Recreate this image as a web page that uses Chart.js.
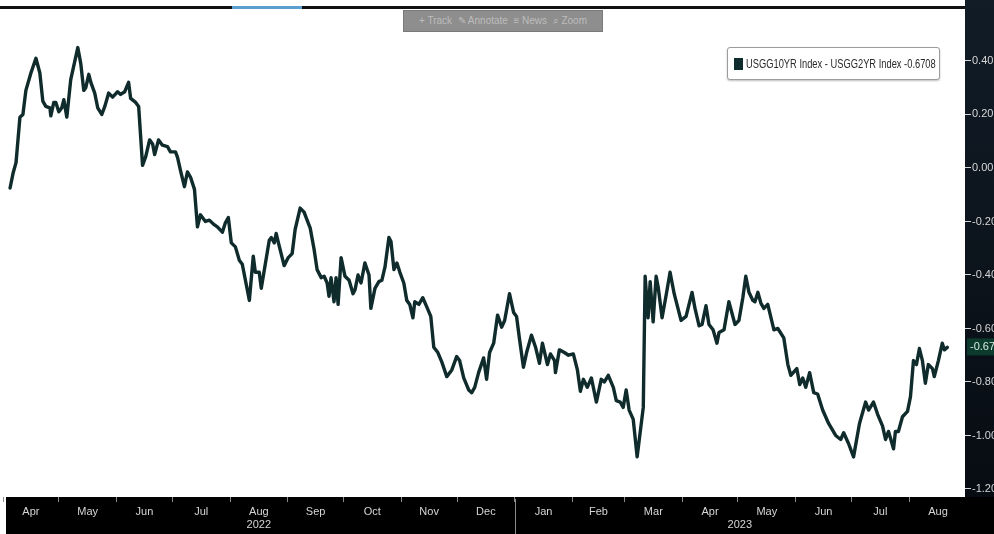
<!DOCTYPE html>
<html>
<head>
<meta charset="utf-8">
<script src="https://cdn.jsdelivr.net/npm/chart.js@4.4.1/dist/chart.umd.min.js"></script>
<style>
  html, body { margin: 0; padding: 0; background: #fff; }
  #wrap { position: relative; width: 994px; height: 534px; overflow: hidden; }
  #chart { position: absolute; left: 0; top: 0; }
  .narrow { font-family: 'Liberation Sans', Arial, sans-serif; }
  #legendBox {
    position: absolute; left: 727px; top: 47px; width: 211px; height: 31px;
    border: 1px solid #9c9c9c; border-radius: 3px; background: #fff;
    box-shadow: 0 1px 2px rgba(0,0,0,0.25);
    font-size: 13.5px; color: #2a2a2a; line-height: 31px; white-space: nowrap;
  }
  #legendBox .swatch {
    position: absolute; left: 6px; top: 10px; width: 9px; height: 12px; background: #0f2b2b;
  }
  #legendBox .txt { position: absolute; left: 18px; top: 0; display: inline-block; transform-origin: 0 50%; }
  #toolbar {
    position: absolute; left: 403px; top: 10px; width: 200px; height: 22px;
    background: #8e8e8e; border: 1px solid #7a7a7a; box-sizing: border-box;
    color: #bdbdbd; font-size: 10px; line-height: 20px; white-space: nowrap;
    text-align: center;
  }
</style>
</head>
<body>
<div id="wrap">
  <canvas id="chart" width="994" height="534"></canvas>
  <div id="toolbar" class="narrow">+ Track&nbsp;&nbsp;&#9998; Annotate&nbsp;&nbsp;&#8801; News&nbsp;&nbsp;&#8981; Zoom</div>
  <div id="legendBox" class="narrow"><span class="swatch"></span><span class="txt" id="legendTxt">USGG10YR Index - USGG2YR Index -0.6708</span></div>
</div>
<script>
// --- chart data ---
// x = days since 1 Apr 2022, y = 10y minus 2y treasury spread
var days = [
  3.8, 5.4, 7.0, 9.1, 10.7, 12.3, 15.0, 17.7, 19.8, 21.4, 23.0, 25.2, 25.7, 27.3, 28.4, 30.0,
  31.6, 32.7, 34.3, 36.4, 40.2, 41.8, 43.4, 44.5, 46.1, 47.2, 49.3, 50.9, 53.1, 54.7, 56.8, 58.9,
  61.6, 63.2, 65.4, 67.5, 68.6, 71.3, 72.9, 75.0, 76.6, 78.8, 80.4, 81.5, 83.6, 85.7, 88.4, 90.0,
  92.7, 93.8, 95.4, 97.5, 99.1, 100.8, 102.9, 104.5, 106.1, 108.8, 110.9, 113.1, 115.2, 117.9,
  119.5, 121.1, 122.7, 124.9, 127.0, 128.6, 132.4, 134.5, 135.6, 137.7, 138.8, 143.1, 144.2, 145.8,
  146.8, 148.4, 151.1, 153.3, 155.4, 157.0, 159.7, 161.8, 164.0, 165.1, 167.2, 168.8, 171.0, 172.6,
  174.2, 175.2, 176.3, 177.9, 179.0, 180.1, 181.7, 183.8, 186.0, 188.1, 189.2, 190.8, 192.4, 194.5,
  196.7, 197.7, 199.9, 202.0, 203.6, 205.3, 207.4, 208.5, 210.1, 211.7, 213.3, 215.4, 217.0, 218.6,
  220.3, 221.3, 223.5, 225.6, 227.8, 229.9, 231.5, 233.7, 235.8, 238.5, 241.2, 243.8, 245.4, 247.6,
  250.3, 251.9, 253.5, 255.6, 258.3, 259.9, 261.5, 263.7, 265.8, 268.0, 269.6, 272.2, 274.4, 276.0,
  277.6, 279.7, 281.4, 284.0, 286.2, 288.3, 289.9, 292.6, 294.2, 296.4, 296.9, 299.0, 301.7, 303.9,
  306.5, 308.7, 310.3, 311.9, 314.0, 316.2, 318.9, 321.5, 323.2, 325.3, 328.0, 329.6, 331.7, 333.3,
  334.9, 336.5, 338.7, 340.8, 344.1, 345.1, 346.7, 347.8, 349.4, 351.0, 352.1, 354.2, 356.4, 358.5,
  360.7, 364.4, 367.1, 370.3, 371.9, 374.1, 375.7, 377.8, 379.4, 381.6, 383.7, 384.8, 387.5, 390.1,
  393.4, 395.5, 397.6, 399.2, 400.9, 403.0, 404.1, 405.7, 407.3, 408.9, 411.0, 414.3, 416.4, 419.6,
  421.8, 423.4, 426.6, 428.2, 429.8, 431.4, 433.5, 435.7, 437.8, 440.5, 443.7, 447.5, 450.2, 451.8,
  454.4, 457.1, 460.3, 463.6, 465.2, 467.8, 470.0, 472.7, 474.3, 475.9, 478.6, 479.6, 481.2, 483.4,
  486.1, 487.7, 489.3, 490.9, 492.5, 494.1, 495.7, 497.3, 499.5, 500.5, 502.7, 504.8, 505.9, 507.5
];
var spread = [
  -0.075, -0.02, 0.02, 0.19, 0.20, 0.29, 0.355, 0.41, 0.355, 0.25, 0.23, 0.225, 0.195, 0.245, 0.245, 0.21,
  0.225, 0.255, 0.19, 0.33, 0.45, 0.39, 0.29, 0.30, 0.35, 0.32, 0.28, 0.225, 0.20, 0.23, 0.28, 0.265,
  0.285, 0.275, 0.285, 0.32, 0.26, 0.245, 0.23, 0.01, 0.04, 0.105, 0.09, 0.05, 0.105, 0.085, 0.08, 0.06,
  0.06, 0.04, -0.01, -0.07, -0.015, -0.035, -0.08, -0.22, -0.175, -0.20, -0.195, -0.21, -0.22, -0.24,
  -0.205, -0.185, -0.28, -0.295, -0.345, -0.36, -0.495, -0.33, -0.39, -0.39, -0.45, -0.27, -0.26, -0.28,
  -0.245, -0.29, -0.365, -0.335, -0.32, -0.23, -0.15, -0.165, -0.205, -0.225, -0.305, -0.38, -0.41, -0.405,
  -0.43, -0.48, -0.41, -0.50, -0.41, -0.51, -0.335, -0.405, -0.42, -0.47, -0.455, -0.40, -0.43, -0.355,
  -0.40, -0.525, -0.45, -0.425, -0.42, -0.37, -0.26, -0.275, -0.38, -0.355, -0.39, -0.43, -0.495, -0.51,
  -0.56, -0.50, -0.51, -0.485, -0.52, -0.555, -0.67, -0.69, -0.725, -0.78, -0.755, -0.705, -0.72, -0.785,
  -0.83, -0.84, -0.82, -0.765, -0.71, -0.79, -0.69, -0.655, -0.55, -0.595, -0.57, -0.47, -0.54, -0.555,
  -0.64, -0.745, -0.69, -0.625, -0.67, -0.73, -0.655, -0.735, -0.695, -0.72, -0.765, -0.68, -0.69, -0.70,
  -0.695, -0.755, -0.835, -0.79, -0.82, -0.785, -0.875, -0.79, -0.80, -0.775, -0.82, -0.87, -0.875, -0.895,
  -0.83, -0.905, -0.94, -1.08, -0.895, -0.405, -0.56, -0.425, -0.575, -0.405, -0.445, -0.56, -0.475, -0.39,
  -0.47, -0.57, -0.555, -0.465, -0.525, -0.59, -0.585, -0.515, -0.585, -0.605, -0.655, -0.615, -0.605, -0.50,
  -0.585, -0.57, -0.485, -0.405, -0.465, -0.495, -0.50, -0.465, -0.505, -0.525, -0.51, -0.605, -0.60, -0.635,
  -0.735, -0.775, -0.75, -0.81, -0.785, -0.82, -0.765, -0.84, -0.845, -0.905, -0.955, -1.0, -1.015, -0.99,
  -1.03, -1.08, -0.955, -0.875, -0.905, -0.875, -0.92, -0.965, -1.015, -0.985, -1.05, -0.985, -0.985, -0.93,
  -0.91, -0.855, -0.72, -0.735, -0.675, -0.72, -0.805, -0.735, -0.75, -0.78, -0.72, -0.655, -0.68, -0.6708
];

// axis labels
var monthNames = ['Apr', 'May', 'Jun', 'Jul', 'Aug', 'Sep', 'Oct', 'Nov', 'Dec',
                  'Jan', 'Feb', 'Mar', 'Apr', 'May', 'Jun', 'Jul', 'Aug'];
var monthStarts = [0, 30, 61, 91, 122, 153, 183, 214, 244, 275, 306, 334, 365, 395, 426, 456, 487, 518];
var yearNames = ['2022', '2023'];
var yearStarts = [0, 275, 517];
var yTicks = [0.40, 0.20, 0.00, -0.20, -0.40, -0.60, -0.80, -1.00, -1.20];
var lastLabel = '-0.67';

var tickFont = "'Liberation Sans', Arial, sans-serif";
var lineColor = '#0f2b2b';

// squeeze legend text to the narrow width of the original
var legendTxt = document.getElementById('legendTxt');
legendTxt.style.transform = 'scaleX(' + (190 / legendTxt.offsetWidth) + ')';

// build x ticks: month boundaries (marks only), month names, year names
var xTickDefs = [];
for (var i = 0; i < monthStarts.length - 1; i++) {
    xTickDefs.push({ value: monthStarts[i], label: '', kind: 'mark' });
    xTickDefs.push({ value: (monthStarts[i] + monthStarts[i + 1]) / 2, label: monthNames[i], kind: 'text' });
}
for (var j = 0; j < yearNames.length; j++) {
    xTickDefs.push({ value: (yearStarts[j] + yearStarts[j + 1]) / 2, label: ['', yearNames[j]], kind: 'text' });
}
xTickDefs.sort(function (a, b) { return a.value - b.value; });

var points = days.map(function (d, k) { return { x: d, y: spread[k] }; });

// background panels, top rule, year divider, last value tag
var decorPlugin = {
    id: 'decor',
    beforeDraw: function (chart) {
        var ctx = chart.ctx, area = chart.chartArea;
        ctx.save();
        ctx.fillStyle = '#ffffff';
        ctx.fillRect(0, 0, chart.width, chart.height);
        var grad = ctx.createLinearGradient(0, 0, 0, area.bottom);
        grad.addColorStop(0, '#111c27');
        grad.addColorStop(1, '#070c12');
        ctx.fillStyle = grad;
        ctx.fillRect(area.right, 0, chart.width - area.right, area.bottom);
        ctx.fillStyle = '#000000';
        ctx.fillRect(6, area.bottom, chart.width - 6, chart.height - area.bottom);
        // top rule
        ctx.fillStyle = '#111111';
        ctx.fillRect(0, area.top - 2, area.right, 3);
        ctx.fillStyle = '#5b9fcf';
        ctx.fillRect(232, area.top - 2, 70, 3);
        ctx.restore();
    },
    afterDraw: function (chart) {
        var ctx = chart.ctx, area = chart.chartArea;
        var xs = chart.scales.x, ys = chart.scales.y;
        ctx.save();
        var xd = Math.round(xs.getPixelForValue(yearStarts[1])) + 0.5;
        ctx.strokeStyle = '#8a8a8a';
        ctx.lineWidth = 1;
        ctx.beginPath();
        ctx.moveTo(xd, area.bottom + 2);
        ctx.lineTo(xd, chart.height);
        ctx.stroke();
        var yv = ys.getPixelForValue(spread[spread.length - 1]);
        ctx.fillStyle = '#0c3a2c';
        ctx.fillRect(area.right + 2, yv - 9, chart.width - area.right - 2, 17);
        ctx.fillStyle = '#d4ecdf';
        ctx.font = '11px ' + tickFont;
        ctx.textBaseline = 'middle';
        ctx.fillText(lastLabel, area.right + 5, yv);
        ctx.restore();
    }
};

var chart = new Chart(document.getElementById('chart').getContext('2d'), {
    type: 'line',
    data: {
        datasets: [{
            label: 'USGG10YR Index - USGG2YR Index',
            data: points,
            borderColor: lineColor,
            borderWidth: 3.4,
            borderJoinStyle: 'round',
            borderCapStyle: 'round',
            pointRadius: 0,
            tension: 0,
            fill: false
        }]
    },
    options: {
        responsive: false,
        animation: false,
        devicePixelRatio: 1,
        layout: { padding: { top: 8, left: 0, right: 0, bottom: 0 } },
        plugins: {
            legend: { display: false },
            tooltip: { enabled: false }
        },
        scales: {
            x: {
                type: 'linear',
                min: 0,
                max: 517,
                afterBuildTicks: function (scale) {
                    scale.ticks = xTickDefs.map(function (t) { return { value: t.value }; });
                },
                afterFit: function (scale) { scale.height = 37; },
                border: { display: false },
                grid: {
                    drawOnChartArea: false,
                    drawTicks: true,
                    tickLength: 5,
                    color: function (c) {
                        var t = xTickDefs[c.index];
                        return t && t.kind === 'mark' ? '#8a8a8a' : 'rgba(0,0,0,0)';
                    }
                },
                ticks: {
                    autoSkip: false,
                    maxRotation: 0,
                    padding: 3,
                    color: '#d6d6d6',
                    font: { family: tickFont, size: 11 },
                    callback: function (v, idx) { return xTickDefs[idx] ? xTickDefs[idx].label : ''; }
                }
            },
            y: {
                position: 'right',
                min: -1.23,
                max: 0.598,
                afterBuildTicks: function (scale) {
                    scale.ticks = yTicks.map(function (v) { return { value: v }; });
                },
                afterFit: function (scale) { scale.width = 29; },
                border: { display: false },
                grid: {
                    drawOnChartArea: false,
                    drawTicks: true,
                    tickLength: 6,
                    color: '#d8d8d8'
                },
                ticks: {
                    padding: 1,
                    color: '#d6d6d6',
                    font: { family: tickFont, size: 11 },
                    callback: function (v) { return v.toFixed(2); }
                }
            }
        }
    },
    plugins: [decorPlugin]
});
</script>
</body>
</html>
